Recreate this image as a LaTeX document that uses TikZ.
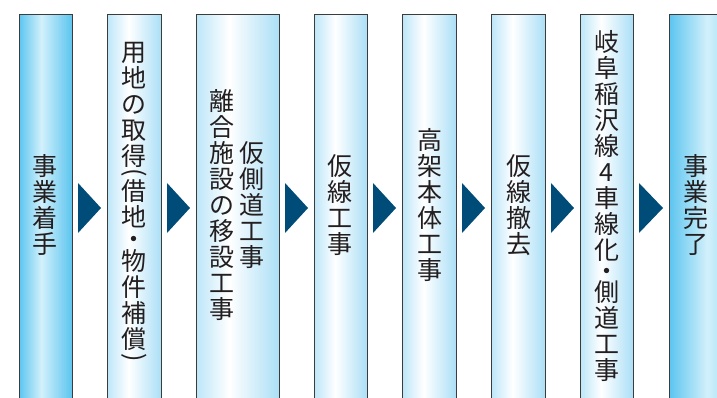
\documentclass[tikz,border=0pt]{standalone}
\usepackage{fontspec}
\newfontfamily\jp{Noto Sans CJK JP}
\usetikzlibrary{calc}
\definecolor{edgeA}{HTML}{5CC5EF}
\definecolor{midA}{HTML}{D2F0FB}
\definecolor{edgeBl}{HTML}{BCE6F8}
\definecolor{edgeBr}{HTML}{ABDFF6}
\definecolor{arrowc}{HTML}{004C79}
\definecolor{linec}{HTML}{3C3C3C}
\definecolor{txt}{HTML}{231F20}
\pgfdeclarehorizontalshading{endbar}{100bp}{color(0bp)=(edgeA); color(25bp)=(edgeA); color(46bp)=(midA); color(75bp)=(edgeA); color(100bp)=(edgeA)}
\pgfdeclarehorizontalshading{midbar}{100bp}{color(0bp)=(edgeBl); color(25bp)=(edgeBl); color(45bp)=(white); color(75bp)=(edgeBr); color(100bp)=(edgeBr)}
\tikzset{
  barline/.style={draw=linec, line width=1pt},
  vtext/.style={align=center, text=txt, font=\jp\fontsize{25}{26}\selectfont, inner sep=0pt},
  steptri/.style={fill=arrowc},
  vparen/.style={rotate=-90, inner sep=0pt, outer sep=0pt, text=txt},
}
\newcommand\vopen{\tikz[baseline=(vpo.center)]\node[vparen] (vpo) {(};}
\newcommand\vclose{\tikz[baseline=(vpc.center)]\node[vparen] (vpc) {)};}
\newcommand\stagebar[4]{%
  \shade[shading=#4] (#2,15) rectangle (#3,400);
  \draw[barline] (#2,400) -- (#2,15) -- (#3,15) -- (#3,400);
  \coordinate (#1-l) at (#2,208);
  \coordinate (#1-r) at (#3,208);
}
\newcommand\steparrow[2]{%
  \fill[steptri] ($(#1-r)+(6,-25)$) -- ($(#1-r)+(6,25)$) -- ($(#2-l)+(-6,0)$) -- cycle;
}
\begin{document}
\begin{tikzpicture}[x=1pt,y=-1pt]
\useasboundingbox (0,0) rectangle (717,398);
\fill[white] (0,0) rectangle (717,398);
\stagebar{b1}{19}{72}{endbar}
\stagebar{b2}{107}{161}{midbar}
\stagebar{b3}{196}{279}{midbar}
\stagebar{b4}{314}{367}{midbar}
\stagebar{b5}{402}{456}{midbar}
\stagebar{b6}{491}{545}{midbar}
\stagebar{b7}{580}{633}{midbar}
\stagebar{b8}{669}{760}{endbar}
\steparrow{b1}{b2}
\steparrow{b2}{b3}
\steparrow{b3}{b4}
\steparrow{b4}{b5}
\steparrow{b5}{b6}
\steparrow{b6}{b7}
\steparrow{b7}{b8}
\node[vtext] (t1) at (45,205) {事\\業\\着\\手};
\node[vtext, anchor=north] (t2) at (134,42) {用\\地\\の\\取\\得\\[-19pt]\vopen\\[2pt]借\\地\\[-4pt]・\\[-4pt]物\\件\\補\\償\\[-17pt]\vclose};
\node[vtext] (t3a) at (251.5,205) {仮\\側\\道\\工\\事};
\node[vtext] (t3b) at (221.5,205) {離\\合\\施\\設\\の\\移\\設\\工\\事};
\node[vtext] (t4) at (339.5,205) {仮\\線\\工\\事};
\node[vtext] (t5) at (430,205) {高\\架\\本\\体\\工\\事};
\node[vtext] (t6) at (518.5,205) {仮\\線\\撤\\去};
\node[vtext] (t7) at (606.5,206) {岐\\阜\\稲\\沢\\線\\4\\車\\線\\化\\[-5pt]・\\[-5pt]側\\道\\工\\事};
\node[vtext] (t8) at (696,205) {事\\業\\完\\了};
\end{tikzpicture}
\end{document}
